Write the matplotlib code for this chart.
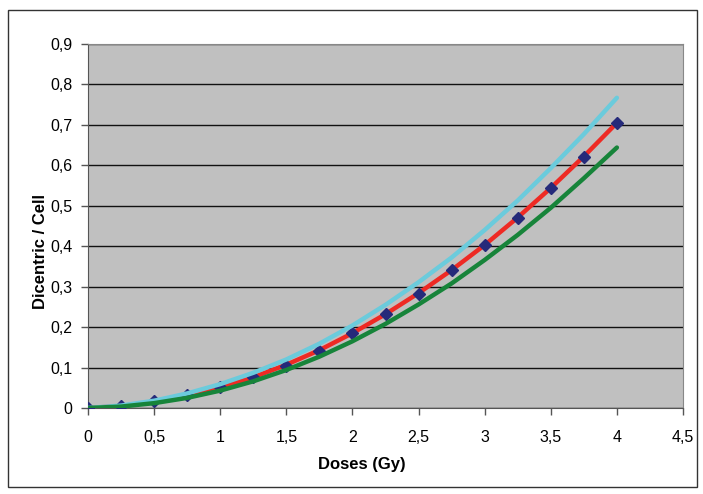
import matplotlib
matplotlib.use("Agg")
import matplotlib.pyplot as plt
from matplotlib.patches import Rectangle

plt.rcParams['font.family'] = ['Liberation Sans', 'DejaVu Sans']

# doses (Gy)
doses = [0, 0.25, 0.5, 0.75, 1, 1.25, 1.5, 1.75, 2, 2.25, 2.5, 2.75, 3, 3.25, 3.5, 3.75, 4]
# observed dicentrics per cell
observed = [0, 0.006, 0.017, 0.032, 0.052, 0.077, 0.105, 0.142, 0.186, 0.232, 0.282,
            0.340, 0.402, 0.470, 0.545, 0.621, 0.705]
# fitted curve and confidence bounds
fit = [0, 0.005, 0.015, 0.030, 0.051, 0.076, 0.107, 0.143, 0.185, 0.232, 0.284,
       0.341, 0.403, 0.471, 0.544, 0.622, 0.705]
upper = [0, 0.006, 0.018, 0.036, 0.059, 0.087, 0.120, 0.159, 0.204, 0.255, 0.311,
         0.372, 0.440, 0.513, 0.593, 0.677, 0.767]
lower = [0, 0.0035, 0.012, 0.025, 0.043, 0.066, 0.094, 0.127, 0.165, 0.208, 0.256,
         0.308, 0.366, 0.428, 0.495, 0.568, 0.644]

xticks = [0, 0.5, 1, 1.5, 2, 2.5, 3, 3.5, 4, 4.5]
xlabels = ['0', '0,5', '1', '1,5', '2', '2,5', '3', '3,5', '4', '4,5']
yticks = [0, 0.1, 0.2, 0.3, 0.4, 0.5, 0.6, 0.7, 0.8, 0.9]
ylabels = ['0', '0,1', '0,2', '0,3', '0,4', '0,5', '0,6', '0,7', '0,8', '0,9']

fig = plt.figure(figsize=(7.03, 4.94), dpi=100)
ax = fig.add_axes([88/703, 1 - 408/494, 595/703, 364/494])
ax.set_facecolor('#c0c0c0')

ax.plot(doses, fit, color='#ee2a24', lw=3.2, zorder=3, solid_capstyle='round')
ax.plot(doses, observed, linestyle='none', marker='D', ms=6.5, color='#252a7a', zorder=4)
ax.plot(doses, upper, color='#6bcbdc', lw=3.2, zorder=5, solid_capstyle='round')
ax.plot(doses, lower, color='#17843a', lw=3.2, zorder=6, solid_capstyle='round')

ax.set_xlim(0, 4.5)
ax.set_ylim(0, 0.9)
ax.set_xticks(xticks)
ax.set_xticklabels(xlabels)
ax.set_yticks(yticks)
ax.set_yticklabels(ylabels)
ax.tick_params(direction='out', length=5, width=1, color='#555555', labelsize=11.5)
ax.tick_params(axis='x', pad=11)
ax.tick_params(axis='y', pad=6)
ax.yaxis.grid(True, color='#111111', lw=1)
ax.set_axisbelow(True)
for s in ['left', 'bottom']:
    ax.spines[s].set_color('#555555')
ax.spines['top'].set_color('#888888')
ax.spines['right'].set_color('#888888')

ax.set_xlabel('Doses (Gy)', fontsize=12, fontweight='bold')
ax.set_ylabel('Dicentric / Cell', fontsize=12, fontweight='bold')
ax.xaxis.set_label_coords(0.46, -0.135)
ax.yaxis.set_label_coords(-0.067, 0.429)

fig.patches.append(Rectangle((8/703, 1 - 487/494), 689/703, 477/494, transform=fig.transFigure,
                             fill=False, edgecolor='#333333', lw=1))

fig.savefig('out.png', dpi=100)
